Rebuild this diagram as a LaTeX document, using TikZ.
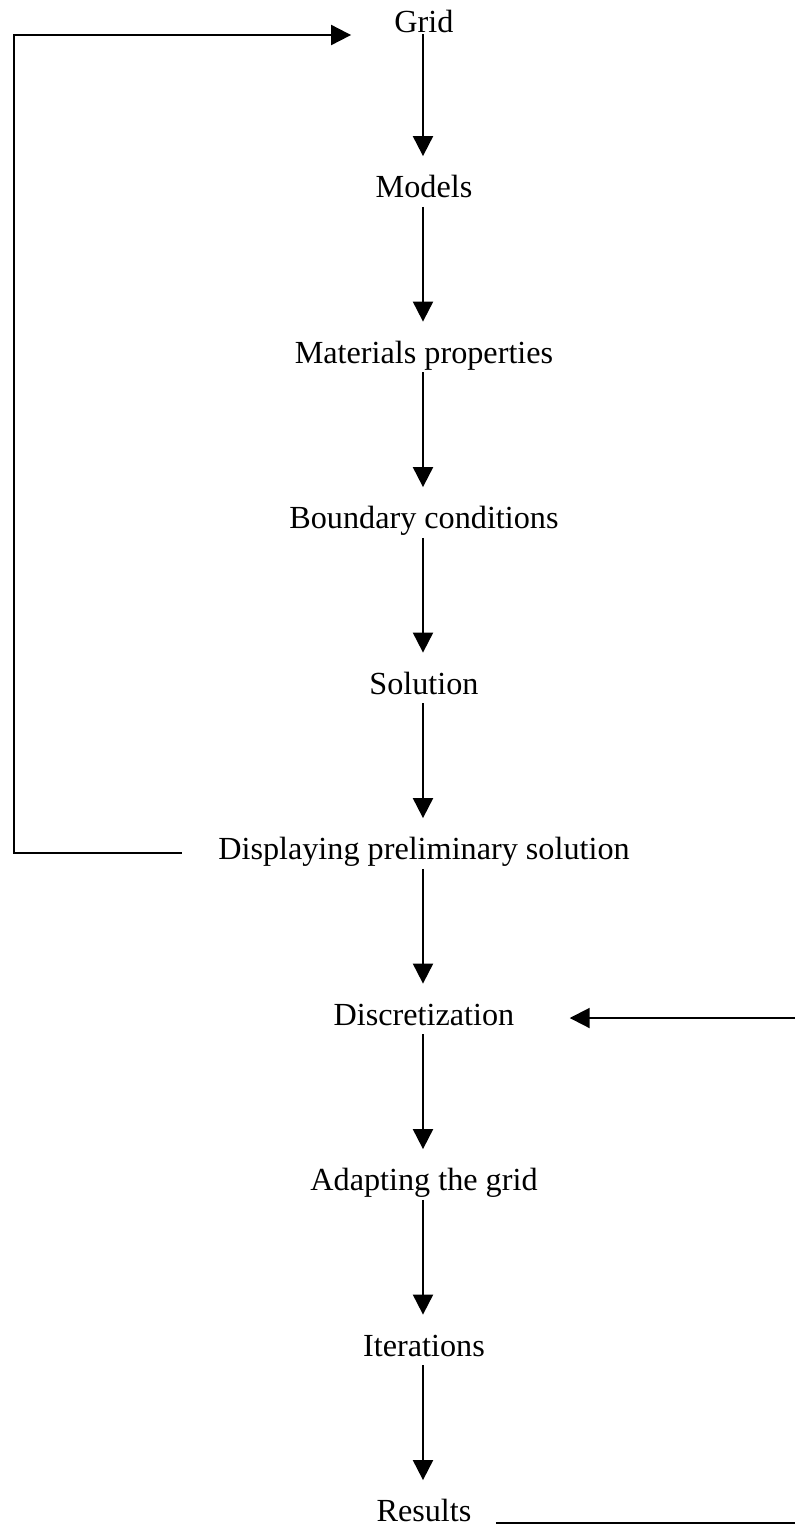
\documentclass[tikz,border=0pt]{standalone}
\usepackage{fontspec}
\setmainfont{Liberation Serif}
\usetikzlibrary{arrows.meta}
\begin{document}
\begin{tikzpicture}[x=0.5pt,y=-0.5pt,
  lbl/.style={anchor=base,inner xsep=0pt,inner ysep=1pt,
    font=\fontsize{16.1pt}{19pt}\selectfont,text height=10.5pt,text depth=3.5pt},
  flow/.style={line width=1pt,-{Triangle[length=10pt,width=10pt]},shorten >=9pt},
  conn/.style={line width=1pt}]
\useasboundingbox (0,0) rectangle (795,1528);
\node[lbl,text depth=0pt] (grid) at (424,32) {Grid};
\node[lbl] (models) at (424,197.5) {Models};
\node[lbl] (mat) at (424,363) {Materials properties};
\node[lbl] (bc) at (424,528.5) {Boundary conditions};
\node[lbl] (sol) at (424,694) {Solution};
\node[lbl] (disp) at (424,859.5) {Displaying preliminary solution};
\node[lbl] (discr) at (424,1025) {Discretization};
\node[lbl] (adapt) at (424,1190.5) {Adapting the grid};
\node[lbl] (iter) at (424,1356) {Iterations};
\node[lbl] (res) at (424,1521.5) {Results};
\coordinate (lc) at (14,35);
\coordinate (rc) at (797,1523);
\draw[flow] (grid.south -| 423,0) -- (models.north -| 423,0);
\draw[flow] (models.south -| 423,0) -- (mat.north -| 423,0);
\draw[flow] (mat.south -| 423,0) -- (bc.north -| 423,0);
\draw[flow] (bc.south -| 423,0) -- (sol.north -| 423,0);
\draw[flow] (sol.south -| 423,0) -- (disp.north -| 423,0);
\draw[flow] (disp.south -| 423,0) -- (discr.north -| 423,0);
\draw[flow] (discr.south -| 423,0) -- (adapt.north -| 423,0);
\draw[flow] (adapt.south -| 423,0) -- (iter.north -| 423,0);
\draw[flow] (iter.south -| 423,0) -- (res.north -| 423,0);
\draw[conn,-{Triangle[length=10pt,width=10pt]}] ([xshift=-18pt]disp.west) -| (lc) -- ([xshift=-21.5pt]grid.west |- lc);
\draw[conn,-{Triangle[length=10pt,width=10pt]}] ([xshift=12pt]res.base east |- rc) -- (rc) |- ([xshift=27.5pt]discr.east);
\end{tikzpicture}
\end{document}
